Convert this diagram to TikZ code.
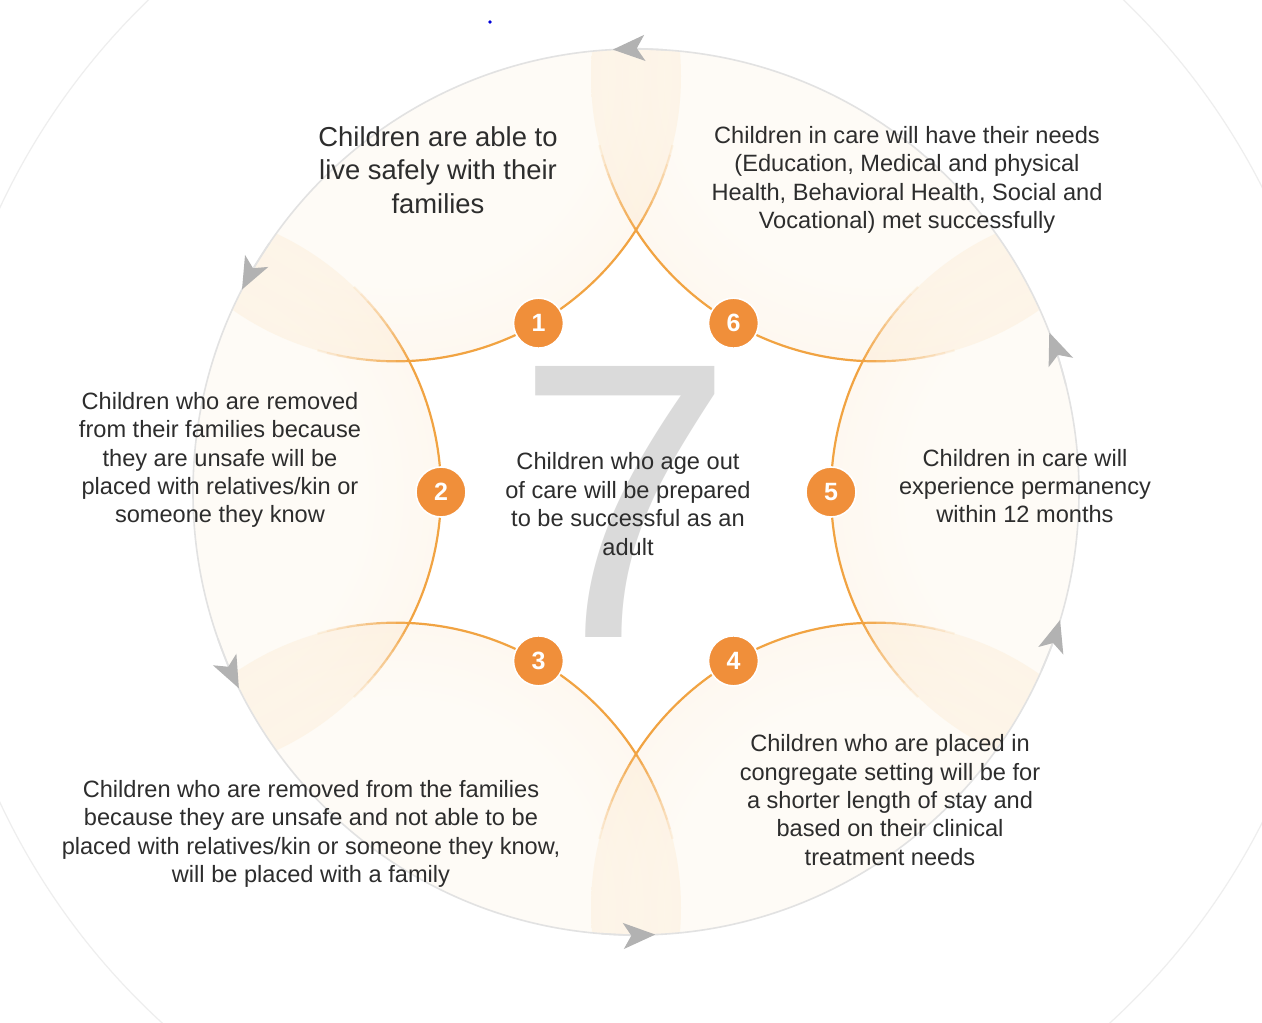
\documentclass[tikz,border=0pt]{standalone}
\usepackage{fontspec}
\setmainfont{Liberation Sans}
\usetikzlibrary{arrows.meta}
\definecolor{arcc}{RGB}{241,163,66}
\definecolor{nodec}{RGB}{240,143,58}
\definecolor{txt}{RGB}{45,45,45}
\definecolor{ringc}{RGB}{226,226,226}
\definecolor{bigc}{RGB}{238,238,238}
\definecolor{arrc}{RGB}{178,178,178}
\definecolor{sevenc}{RGB}{218,218,218}
\definecolor{petalin}{RGB}{254,251,246}
\definecolor{petalc}{RGB}{252,238,220}
\pgfdeclareradialshading{petalshade}{\pgfpoint{0bp}{0bp}}{color(0bp)=(petalin); color(18bp)=(petalin); color(50bp)=(petalc)}
\begin{document}
\begin{tikzpicture}[x=0.5pt,y=0.5pt,
  lbl/.style={text=txt, align=center, inner sep=0pt, font=\fontsize{11.8pt}{14.2pt}\selectfont},
  biglbl/.style={lbl, font=\fontsize{13.7pt}{16.7pt}\selectfont},
  numc/.style={circle, fill=nodec, draw=white, line width=0.8pt, minimum size=25pt, inner sep=0pt,
    text=white, font=\fontsize{12.5pt}{12.5pt}\selectfont\bfseries},
  ring/.style={ringc, line width=0.8pt},
  petalarc/.style={arcc, line width=1.1pt}]
\useasboundingbox (-636,-530) rectangle (626,492);
\fill[white] (-636,-530) rectangle (626,492);
% large faint outer circle
\draw[bigc, line width=0.6pt] (0,-13) circle (702);
% petal fills
\begin{scope}
  \clip (0,0) circle (443);
  \begin{scope}[blend mode=multiply]
    \foreach \a in {0,60,...,300}
      \shade[shading=petalshade] (\a:480) circle (285);
  \end{scope}
\end{scope}
% big seven
\node[text=sevenc, inner sep=0pt, font=\fontsize{197pt}{197pt}\selectfont] (seven) at (-10.5,-10) {7};
% gray ring with arrows
\draw[ring] (0,0) circle (443);
\foreach \t in {93,152.8,206.3,272.5,343.2,21.1}
  \draw[ring, -{Stealth[length=16pt,width=13pt,inset=4pt,color=arrc,fill=arrc]}]
    ({\t-7}:443) arc[start angle={\t-7}, end angle=\t, radius=443];
% petal arcs
\foreach \a in {0,60,...,300} {
  \begin{scope}[shift={(\a:480)}]
    \pgfmathsetmacro{\m}{\a+180}
    \draw[petalarc] ({\m-28}:285) arc[start angle={\m-28}, end angle={\m+28}, radius=285];
    \foreach \k in {1,...,9} {
      \pgfmathsetmacro{\op}{1-\k/10}
      \pgfmathsetmacro{\sa}{\m+28+2*(\k-1)}
      \pgfmathsetmacro{\ea}{\m+28+2*\k}
      \pgfmathsetmacro{\sb}{\m-28-2*(\k-1)}
      \pgfmathsetmacro{\eb}{\m-28-2*\k}
      \draw[petalarc, draw opacity=\op] (\sa:285) arc[start angle=\sa, end angle=\ea, radius=285];
      \draw[petalarc, draw opacity=\op] (\sb:285) arc[start angle=\sb, end angle=\eb, radius=285];
    }
  \end{scope}
}
% numbered nodes
\node[numc] (n1) at (120:195) {1};
\node[numc] (n2) at (180:195) {2};
\node[numc] (n3) at (240:195) {3};
\node[numc] (n4) at (300:195) {4};
\node[numc] (n5) at (0:195) {5};
\node[numc] (n6) at (60:195) {6};
% texts
\node[biglbl] (t1) at (-198,322) {Children are able to\\live safely with their\\families};
\node[lbl] (t6) at (271,312) {Children in care will have their needs\\(Education, Medical and physical\\Health, Behavioral Health, Social and\\Vocational) met successfully};
\node[lbl] (t2) at (-416,32) {Children who are removed\\from their families because\\they are unsafe will be\\placed with relatives/kin or\\someone they know};
\node[lbl] (t5) at (389,6) {Children in care will\\experience permanency\\within 12 months};
\node[lbl] (t3) at (-325,-342) {Children who are removed from the families\\because they are unsafe and not able to be\\placed with relatives/kin or someone they know,\\will be placed with a family};
\node[lbl] (t4) at (254,-308) {Children who are placed in\\congregate setting will be for\\a shorter length of stay and\\based on their clinical\\treatment needs};
\node[lbl] (t0) at (-8,-12) {Children who age out\\of care will be prepared\\to be successful as an\\adult};
% small blue dot
\fill[blue!85!black] (-146,470) circle (1.8);
\end{tikzpicture}
\end{document}
